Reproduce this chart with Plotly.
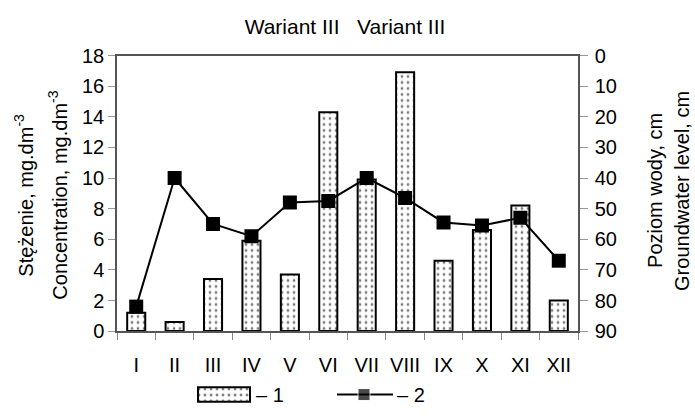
import plotly.graph_objects as go

# ---- data ----
months = ["I", "II", "III", "IV", "V", "VI", "VII", "VIII", "IX", "X", "XI", "XII"]
concentration = [1.2, 0.6, 3.4, 5.9, 3.7, 14.3, 9.9, 16.9, 4.6, 6.6, 8.2, 2.0]
water_level = [82, 40, 55, 59, 48, 47.5, 40, 46.5, 54.5, 55.5, 53, 67]
left_ticks = list(range(0, 19, 2))
right_ticks = list(range(0, 91, 10))
legend_labels = ["– 1", "– 2"]

# ---- layout helpers (pixel -> paper) ----
W, H = 695, 416
def px(x):
    return x / W
def py(y):
    return 1 - y / H

font = "Liberation Sans, Arial, sans-serif"
FS = 20
pattern = dict(shape=".", fgcolor="black", bgcolor="white", size=6, solidity=0.18)

fig = go.Figure()
fig.add_trace(go.Bar(
    x=months, y=concentration, width=0.47,
    marker=dict(color="white", line=dict(color="black", width=2), pattern=pattern),
    xaxis="x", yaxis="y", showlegend=False,
))
fig.add_trace(go.Scatter(
    x=months, y=water_level, mode="lines+markers",
    line=dict(color="black", width=2),
    marker=dict(symbol="square", size=14, color="black"),
    xaxis="x", yaxis="y2", showlegend=False,
))

# ---- custom legend (drawn in its own small axes) ----
fig.add_trace(go.Bar(
    x=[52], base=[198], y=[0.5], orientation="h", width=0.85,
    marker=dict(color="white", line=dict(color="black", width=2), pattern=pattern),
    xaxis="x3", yaxis="y3", showlegend=False, hoverinfo="skip",
))
fig.add_trace(go.Scatter(
    x=[337, 364, 393], y=[0.5, 0.5, 0.5], mode="lines+markers",
    line=dict(color="black", width=2),
    marker=dict(symbol="square", size=[0, 12, 0], color="black"),
    xaxis="x3", yaxis="y3", showlegend=False, hoverinfo="skip",
))

annotations = [
    dict(text=legend_labels[0], x=254, y=0.5, xref="x3", yref="y3", xanchor="left",
         yanchor="middle", showarrow=False, font=dict(size=FS)),
    dict(text=legend_labels[1], x=395, y=0.5, xref="x3", yref="y3", xanchor="left",
         yanchor="middle", showarrow=False, font=dict(size=FS)),
    dict(text="Stężenie, mg.dm<sup>-3</sup>", x=px(24), y=py(195), xref="paper", yref="paper",
         textangle=-90, showarrow=False, xanchor="center", yanchor="middle", font=dict(size=FS)),
    dict(text="Concentration, mg.dm<sup>-3</sup>", x=px(58), y=py(195), xref="paper", yref="paper",
         textangle=-90, showarrow=False, xanchor="center", yanchor="middle", font=dict(size=FS)),
    dict(text="Poziom wody, cm", x=px(655), y=py(190), xref="paper", yref="paper",
         textangle=-90, showarrow=False, xanchor="center", yanchor="middle", font=dict(size=FS)),
    dict(text="Groundwater level, cm", x=px(682), y=py(190), xref="paper", yref="paper",
         textangle=-90, showarrow=False, xanchor="center", yanchor="middle", font=dict(size=FS)),
]

fig.update_layout(
    width=W, height=H,
    margin=dict(l=0, r=0, t=0, b=0),
    paper_bgcolor="white", plot_bgcolor="white",
    font=dict(family=font, size=FS, color="black"),
    title=dict(text="Wariant III&nbsp;&nbsp;&nbsp;Variant III", x=px(345), xanchor="center",
               xref="paper", yref="paper", y=py(17), yanchor="middle", font=dict(size=21)),
    showlegend=False,
    annotations=annotations,
    xaxis=dict(domain=[px(117), px(578)], range=[-0.5, 11.5], showline=True, linecolor="#555",
               linewidth=1.5, mirror=True, ticks="outside", ticklen=7, tickcolor="#888",
               tickson="boundaries", showgrid=False, tickfont=dict(size=FS), tickangle=0,
               ticklabelstandoff=15, anchor="y"),
    yaxis=dict(domain=[py(338), py(47)], range=[0, 18], tickvals=left_ticks, showline=True,
               linecolor="#555", linewidth=1.5, ticks="outside", ticklen=7, tickcolor="#999",
               showgrid=False, zeroline=False, tickfont=dict(size=FS), anchor="x"),
    yaxis2=dict(domain=[py(338), py(47)], range=[90, 0], tickvals=right_ticks, overlaying="y",
                side="right", anchor="x", showline=True, linecolor="#555", linewidth=1.5,
                ticks="outside", ticklen=8, tickcolor="#999", showgrid=False, zeroline=False,
                ticklabelstandoff=3, tickfont=dict(size=FS)),
    xaxis3=dict(domain=[px(190), px(430)], range=[190, 430], visible=False, anchor="y3",
                fixedrange=True),
    yaxis3=dict(domain=[py(414), py(396)], range=[0, 1], visible=False, anchor="x3",
                fixedrange=True),
)

fig.write_html("out.html")
